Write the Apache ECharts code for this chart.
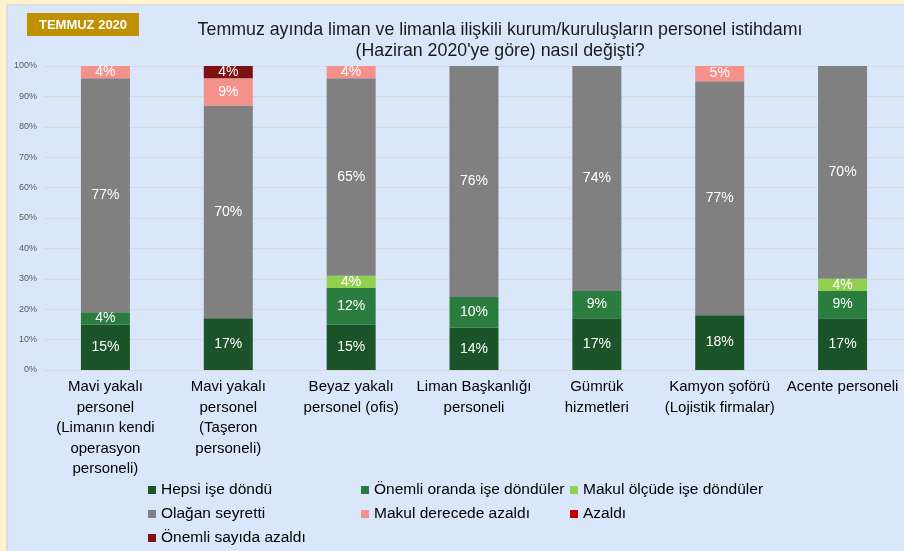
<!DOCTYPE html>
<html>
<head>
<meta charset="utf-8">
<script src="https://cdn.jsdelivr.net/npm/echarts@6/dist/echarts.min.js"></script>
<style>
  html, body { margin: 0; padding: 0; background: #fff2cc; }
  #chart { width: 904px; height: 551px; }
</style>
</head>
<body>
<div id="chart"></div>
<script>
const categories = [
  'Mavi yakalı\npersonel\n(Limanın kendi\noperasyon\npersoneli)',
  'Mavi yakalı\npersonel\n(Taşeron\npersoneli)',
  'Beyaz yakalı\npersonel (ofis)',
  'Liman Başkanlığı\npersoneli',
  'Gümrük\nhizmetleri',
  'Kamyon şoförü\n(Lojistik firmalar)',
  'Acente personeli'
];
const seriesNames = [
  'Hepsi işe döndü',
  'Önemli oranda işe döndüler',
  'Makul ölçüde işe döndüler',
  'Olağan seyretti',
  'Makul derecede azaldı',
  'Azaldı',
  'Önemli sayıda azaldı'
];
const hepsi = [15, 17, 15, 14, 17, 18, 17];
const onemliDondu = [4, 0, 12, 10, 9, 0, 9];
const makulDondu = [0, 0, 4, 0, 0, 0, 4];
const olagan = [77, 70, 65, 76, 74, 77, 70];
const makulAzaldi = [4, 9, 4, 0, 0, 5, 0];
const azaldi = [0, 0, 0, 0, 0, 0, 0];
const onemliAzaldi = [0, 4, 0, 0, 0, 0, 0];
const yTicks = [0, 10, 20, 30, 40, 50, 60, 70, 80, 90, 100];

const colors = ['#1c5429', '#2a7d3f', '#92d050', '#808080', '#f4918a', '#c00000', '#7b1111'];
const values = [hepsi, onemliDondu, makulDondu, olagan, makulAzaldi, azaldi, onemliAzaldi];

const chart = echarts.init(document.getElementById('chart'));

const series = seriesNames.map((name, i) => ({
  name: name,
  type: 'bar',
  stack: 'total',
  barWidth: 49,
  data: values[i],
  itemStyle: { color: colors[i] },
  label: {
    show: true,
    position: 'inside',
    color: '#ffffff',
    fontSize: 14,
    fontFamily: 'Liberation Sans, Arial, sans-serif',
    formatter: p => (p.value ? p.value + '%' : '')
  }
}));

const legendText = { color: '#000', fontSize: 15.5, fontFamily: 'Liberation Sans, Arial, sans-serif' };
const legendBase = {
  orient: 'vertical',
  itemWidth: 8,
  itemHeight: 8,
  itemGap: 8,
  padding: 0,
  height: 80,
  icon: 'rect',
  textStyle: legendText,
  selectedMode: false
};

const option = {
  backgroundColor: '#fff2cc',
  animation: false,
  graphic: [
    {
      type: 'rect',
      shape: { x: 7, y: 5, width: 910, height: 560 },
      style: { fill: '#dae7fb', stroke: '#c7d3e4', lineWidth: 1 },
      z: -10
    },
    {
      type: 'rect',
      shape: { x: 27, y: 13, width: 112, height: 23 },
      style: { fill: '#bf9000' }
    },
    {
      type: 'text',
      x: 83, y: 25,
      style: {
        text: 'TEMMUZ 2020',
        fill: '#fff',
        font: 'bold 13px Liberation Sans, Arial, sans-serif',
        align: 'center',
        verticalAlign: 'middle'
      }
    },
    {
      type: 'text',
      x: 500, y: 41,
      style: {
        text: 'Temmuz ayında liman ve limanla ilişkili kurum/kuruluşların personel istihdamı\n(Haziran 2020\'ye göre) nasıl değişti?',
        fill: '#1a1a1a',
        font: '17.8px Liberation Sans, Arial, sans-serif',
        lineHeight: 21,
        align: 'center',
        verticalAlign: 'middle'
      }
    }
  ],
  grid: { left: 44, right: 0, top: 66, bottom: 181 },
  xAxis: {
    type: 'category',
    data: categories,
    axisLine: { lineStyle: { color: '#d9d9d9' } },
    axisTick: { show: false },
    axisLabel: {
      color: '#000',
      fontSize: 15,
      lineHeight: 20.5,
      margin: 7,
      interval: 0,
      fontFamily: 'Liberation Sans, Arial, sans-serif'
    }
  },
  yAxis: {
    type: 'value',
    min: yTicks[0],
    max: yTicks[yTicks.length - 1],
    interval: 10,
    axisLine: { show: false },
    axisTick: { show: false },
    splitLine: { lineStyle: { color: '#d9d9d9' } },
    axisLabel: {
      color: '#595959',
      fontSize: 9,
      margin: 7,
      fontFamily: 'Liberation Sans, Arial, sans-serif',
      formatter: '{value}%'
    }
  },
  legend: [
    Object.assign({}, legendBase, { left: 148, top: 482, data: [seriesNames[0], seriesNames[3], seriesNames[6]] }),
    Object.assign({}, legendBase, { left: 361, top: 482, data: [seriesNames[1], seriesNames[4]] }),
    Object.assign({}, legendBase, { left: 570, top: 482, data: [seriesNames[2], seriesNames[5]] })
  ],
  series: series
};

chart.setOption(option);
</script>
</body>
</html>
